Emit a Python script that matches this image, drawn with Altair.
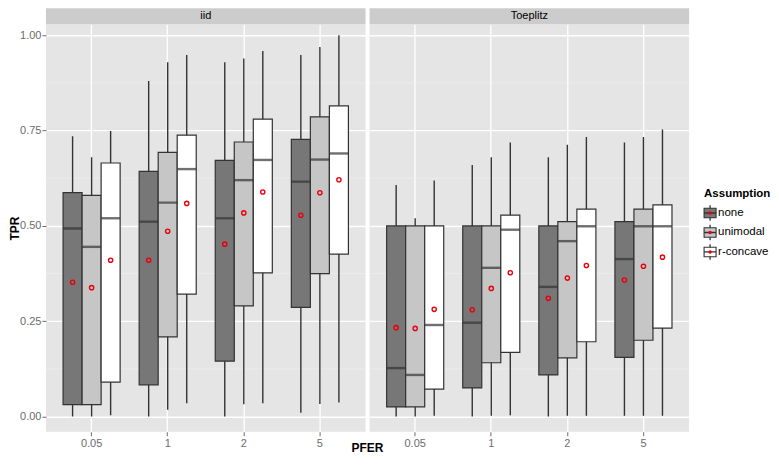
import altair as alt
import pandas as pd

panels = ["iid", "Toeplitz"]
pfer = ["0.05", "1", "2", "5"]
assumptions = ["none", "unimodal", "r-concave"]
fills = ["#777777", "#c6c6c6", "#ffffff"]
y_ticks = [0.0, 0.25, 0.5, 0.75, 1.0]
minor_grid = [0.125, 0.375, 0.625, 0.875]

# order: panel -> PFER -> assumption
lower = [
    0.0, 0.0, 0.003, 0.0, 0.018, 0.035, 0.0, 0.032, 0.035, 0.01, 0.033, 0.037,
    0.0, 0.0, 0.002, 0.0, 0.002, 0.003, 0.0, 0.002, 0.002, 0.002, 0.002, 0.002,
]
q1 = [
    0.031, 0.031, 0.09, 0.083, 0.209, 0.321, 0.145, 0.29, 0.377, 0.286, 0.375, 0.426,
    0.025, 0.025, 0.072, 0.075, 0.141, 0.168, 0.109, 0.154, 0.196, 0.155, 0.2, 0.232,
]
median = [
    0.493, 0.445, 0.52, 0.511, 0.561, 0.649, 0.52, 0.62, 0.673, 0.616, 0.674, 0.69,
    0.127, 0.109, 0.24, 0.246, 0.39, 0.49, 0.34, 0.46, 0.499, 0.413, 0.499, 0.499,
]
q3 = [
    0.587, 0.58, 0.665, 0.643, 0.693, 0.738, 0.672, 0.72, 0.78, 0.727, 0.786, 0.815,
    0.5, 0.5, 0.5, 0.5, 0.5, 0.528, 0.5, 0.511, 0.544, 0.511, 0.544, 0.555,
]
upper = [
    0.735, 0.68, 0.749, 0.88, 0.929, 0.948, 0.929, 0.939, 0.959, 0.948, 0.969, 1.0,
    0.607, 0.52, 0.619, 0.66, 0.68, 0.719, 0.68, 0.713, 0.733, 0.719, 0.733, 0.753,
]
mean = [
    0.352, 0.338, 0.41, 0.41, 0.486, 0.559, 0.452, 0.534, 0.589, 0.528, 0.587, 0.621,
    0.233, 0.231, 0.281, 0.28, 0.336, 0.377, 0.31, 0.363, 0.396, 0.358, 0.394, 0.418,
]

rows = []
i = 0
for p in panels:
    for f in pfer:
        for a in assumptions:
            rows.append(dict(panel=p, PFER=f, Assumption=a, lower=lower[i], q1=q1[i],
                             median=median[i], q3=q3[i], upper=upper[i], mean=mean[i]))
            i += 1
df = pd.DataFrame(rows)

FONT = "Liberation Sans"
TXT = "#6b6b6b"
PW, PH = 320, 408
ydom = [-0.04, 1.0289]
yscale = alt.Scale(domain=ydom, nice=False, zero=False)
fill_scale = alt.Scale(domain=assumptions, range=fills)


def panel_chart(name, show_y):
    d = df[df.panel == name]
    base = alt.Chart(d)
    xaxis = alt.Axis(title=None, labelAngle=0, labelColor=TXT, labelFontSize=11,
                     labelPadding=2, tickColor=TXT, tickSize=4, domain=False,
                     grid=True, gridColor="white", gridWidth=1.3, bandPosition=0.5)
    x = alt.X("PFER:N", sort=pfer,
              scale=alt.Scale(domain=pfer, paddingInner=0, paddingOuter=0.1),
              axis=xaxis)
    xo = alt.XOffset("Assumption:N", sort=assumptions,
                     scale=alt.Scale(domain=assumptions, paddingInner=0, paddingOuter=0.5))
    if show_y:
        yaxis = alt.Axis(values=y_ticks, format=".2f", title="TPR", titleFontSize=12,
                         titleFontWeight="bold", titleColor="black", titlePadding=-2,
                         labelColor=TXT, labelFontSize=11, labelPadding=1,
                         tickColor=TXT, tickSize=4, domain=False, grid=True,
                         gridColor="white", gridWidth=1.3)
    else:
        yaxis = alt.Axis(values=y_ticks, title=None, labels=False, ticks=False,
                         domain=False, grid=True, gridColor="white", gridWidth=1.3)

    minor = alt.Chart(pd.DataFrame({"v": minor_grid})).mark_rule(
        color="#f2f2f2", strokeWidth=0.6
    ).encode(y=alt.Y("v:Q", scale=yscale, axis=yaxis))

    strip_df = pd.DataFrame({"panel": [name]})
    strip = alt.Chart(strip_df).mark_rect(color="#cccccc").encode(
        x=alt.value(0), x2=alt.value(PW), y=alt.value(-16), y2=alt.value(0)
    )
    strip_text = alt.Chart(strip_df).mark_text(
        font=FONT, fontSize=11, color="black", baseline="middle"
    ).encode(x=alt.value(PW / 2), y=alt.value(-8), text="panel:N")

    whisk = base.mark_rule(color="#333333", strokeWidth=1.4).encode(
        x=x, xOffset=xo, y=alt.Y("lower:Q", scale=yscale), y2="upper:Q"
    )
    box = base.mark_bar(stroke="#333333", strokeWidth=1.2).encode(
        x=x, xOffset=xo, y=alt.Y("q1:Q", scale=yscale), y2="q3:Q",
        fill=alt.Fill("Assumption:N", scale=fill_scale, legend=None),
    )
    med = base.mark_tick(color="#333333", thickness=2.4, size=19).encode(
        x=x, xOffset=xo, y=alt.Y("median:Q", scale=yscale)
    )
    pts = base.mark_point(shape="circle", filled=False, color="#e8000b",
                          size=18, strokeWidth=1.4, opacity=1).encode(
        x=x, xOffset=xo, y=alt.Y("mean:Q", scale=yscale)
    )
    layers = [minor, strip, strip_text, whisk, box, med, pts]
    if show_y:
        xtitle = alt.Chart(pd.DataFrame({"t": ["PFER"]})).mark_text(
            font=FONT, fontSize=12, fontWeight="bold", color="black", baseline="middle"
        ).encode(x=alt.value(PW + 2), y=alt.value(PH + 16), text="t:N")
        layers.append(xtitle)
    return alt.layer(*layers).properties(
        width=PW, height=PH, view=alt.ViewBackground(fill="#e5e5e5", strokeWidth=0)
    )


# custom ggplot-like legend
leg_df = pd.DataFrame({"Assumption": assumptions})
ly = alt.Y("Assumption:N", sort=assumptions,
           scale=alt.Scale(type="point", domain=assumptions, range=[189, 228], padding=0),
           axis=None)
lbase = alt.Chart(leg_df)
key_box = lbase.mark_point(
    shape="M-1,-0.8L1,-0.8L1,0.8L-1,0.8Z", filled=True, size=144,
    stroke="#333333", strokeWidth=1.1, opacity=1
).encode(x=alt.value(11), y=ly,
         fill=alt.Fill("Assumption:N", scale=fill_scale, legend=None))
key_lines = lbase.mark_point(
    shape="M0,-1.3L0,-0.8M0,0.8L0,1.3M-1,0L1,0", filled=False, size=144,
    color="#333333", strokeWidth=1.3, opacity=1
).encode(x=alt.value(11), y=ly)
key_dot = lbase.mark_point(shape="circle", filled=True, color="#e8000b",
                           size=12, opacity=1).encode(x=alt.value(11), y=ly)
key_text = lbase.mark_text(align="left", baseline="middle", font=FONT,
                           fontSize=11.5, color="black").encode(
    x=alt.value(19), y=ly, text="Assumption:N")
leg_title = alt.Chart(pd.DataFrame({"t": ["Assumption"]})).mark_text(
    align="left", baseline="middle", font=FONT, fontSize=11.5,
    fontWeight="bold", color="black"
).encode(x=alt.value(5), y=alt.value(170), text="t:N")
legend = alt.layer(key_box, key_lines, key_dot, key_text, leg_title).properties(
    width=60, height=PH
)

panels_row = alt.hconcat(panel_chart("iid", True), panel_chart("Toeplitz", False),
                         spacing=4, bounds="flush")

chart = alt.hconcat(panels_row, legend, spacing=9).properties(
    padding={"left": 0, "top": 0, "right": 0, "bottom": 0}
).configure(font=FONT).configure_view(strokeWidth=0)

chart.save("out.html", embed_options={"renderer": "svg", "actions": False})
